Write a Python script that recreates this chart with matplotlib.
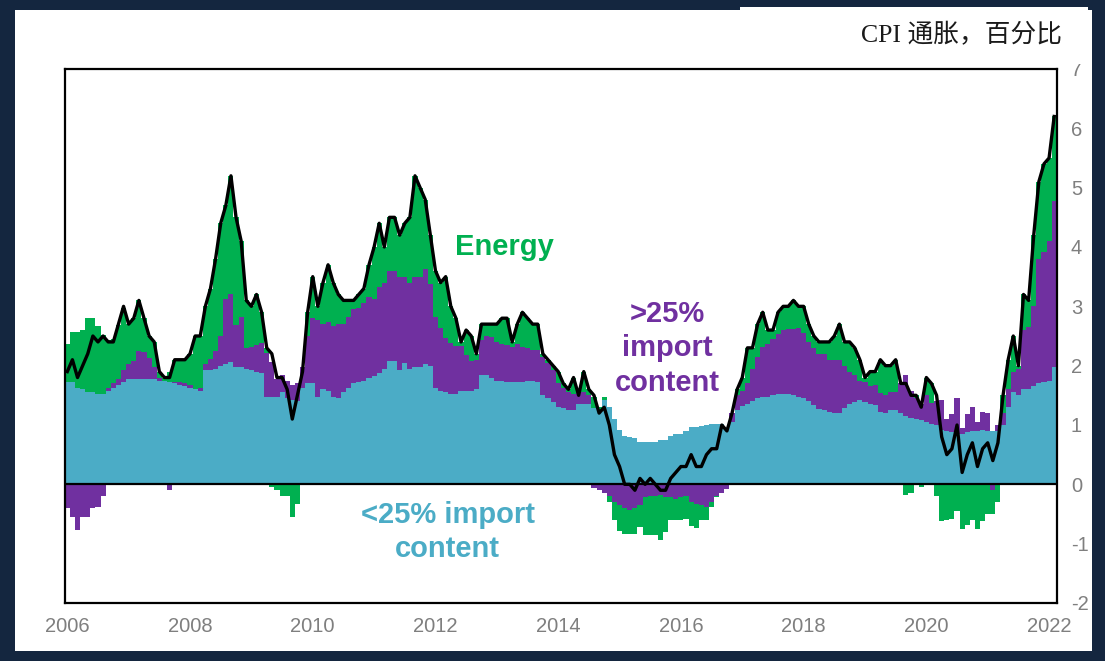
import numpy as np
import matplotlib.pyplot as plt
from matplotlib.patches import Rectangle

plt.rcParams["font.family"] = ["Liberation Sans", "Noto Sans CJK SC"]
plt.rcParams["axes.unicode_minus"] = False

NAVY = "#14263F"
TEAL = "#4BACC6"
PURPLE = "#7030A0"
GREEN = "#00B050"
GREY = "#7F7F7F"

# ---------------------------------------------------------------------------
# Data: monthly, Jan 2006 .. Feb 2022 (percentage points)
# ---------------------------------------------------------------------------
tick_years = ["2006", "2008", "2010", "2012", "2014", "2016", "2018", "2020", "2022"]

cpi = [
    1.9, 2.1, 1.8, 2.0, 2.2, 2.5, 2.4, 2.5, 2.4, 2.4, 2.7, 3.0,
    2.7, 2.8, 3.1, 2.8, 2.5, 2.4, 1.9, 1.8, 1.8, 2.1, 2.1, 2.1,
    2.2, 2.5, 2.5, 3.0, 3.3, 3.8, 4.4, 4.7, 5.2, 4.5, 4.1, 3.1,
    3.0, 3.2, 2.9, 2.3, 2.2, 1.8, 1.8, 1.6, 1.1, 1.5, 1.9, 2.9,
    3.5, 3.0, 3.4, 3.7, 3.4, 3.2, 3.1, 3.1, 3.1, 3.2, 3.3, 3.7,
    4.0, 4.4, 4.0, 4.5, 4.5, 4.2, 4.4, 4.5, 5.2, 5.0, 4.8, 4.2,
    3.6, 3.4, 3.5, 3.0, 2.8, 2.4, 2.6, 2.5, 2.2, 2.7, 2.7, 2.7,
    2.7, 2.8, 2.8, 2.4, 2.7, 2.9, 2.8, 2.7, 2.7, 2.2, 2.1, 2.0,
    1.9, 1.7, 1.6, 1.8, 1.5, 1.9, 1.6, 1.5, 1.2, 1.3, 1.0, 0.5,
    0.3, 0.0, 0.0, -0.1, 0.1, 0.0, 0.1, 0.0, -0.1, -0.1, 0.1, 0.2,
    0.3, 0.3, 0.5, 0.3, 0.3, 0.5, 0.6, 0.6, 1.0, 0.9, 1.2, 1.6,
    1.8, 2.3, 2.3, 2.7, 2.9, 2.6, 2.6, 2.9, 3.0, 3.0, 3.1, 3.0,
    3.0, 2.7, 2.5, 2.4, 2.4, 2.4, 2.5, 2.7, 2.4, 2.4, 2.3, 2.1,
    1.8, 1.9, 1.9, 2.1, 2.0, 2.0, 2.1, 1.7, 1.7, 1.5, 1.5, 1.3,
    1.8, 1.7, 1.5, 0.8, 0.5, 0.6, 1.0, 0.2, 0.5, 0.7, 0.3, 0.6,
    0.7, 0.4, 0.7, 1.5, 2.1, 2.5, 2.0, 3.2, 3.1, 4.2, 5.1, 5.4,
    5.5, 6.2,
]

low_import = [
    1.72, 1.72, 1.62, 1.60, 1.55, 1.55, 1.52, 1.52, 1.58, 1.62, 1.68, 1.73,
    1.78, 1.78, 1.78, 1.78, 1.78, 1.77, 1.75, 1.75, 1.72, 1.70, 1.68, 1.65,
    1.62, 1.60, 1.58, 1.92, 1.92, 1.95, 2.00, 2.02, 2.06, 1.98, 1.97, 1.95,
    1.92, 1.90, 1.88, 1.47, 1.47, 1.47, 1.55, 1.45, 1.42, 1.40, 1.62, 1.70,
    1.70, 1.47, 1.60, 1.58, 1.47, 1.45, 1.55, 1.62, 1.70, 1.72, 1.75, 1.80,
    1.82, 1.88, 1.95, 2.08, 2.08, 1.92, 2.05, 1.95, 1.97, 1.97, 2.03, 2.00,
    1.62, 1.58, 1.56, 1.53, 1.53, 1.58, 1.58, 1.58, 1.60, 1.85, 1.85, 1.80,
    1.75, 1.75, 1.73, 1.72, 1.72, 1.72, 1.75, 1.75, 1.72, 1.50, 1.45, 1.38,
    1.30, 1.28, 1.25, 1.25, 1.35, 1.36, 1.36, 1.28, 1.25, 1.42, 1.30, 1.10,
    0.91, 0.82, 0.80, 0.78, 0.72, 0.71, 0.71, 0.72, 0.74, 0.74, 0.82, 0.85,
    0.85, 0.90, 0.97, 0.97, 0.98, 1.00, 1.02, 1.02, 1.02, 0.93, 1.05, 1.25,
    1.32, 1.35, 1.40, 1.45, 1.47, 1.47, 1.50, 1.53, 1.53, 1.52, 1.50, 1.48,
    1.45, 1.40, 1.33, 1.27, 1.25, 1.22, 1.20, 1.20, 1.28, 1.35, 1.38, 1.42,
    1.38, 1.36, 1.33, 1.22, 1.20, 1.25, 1.25, 1.20, 1.15, 1.12, 1.10, 1.08,
    1.05, 1.02, 1.00, 0.92, 0.90, 0.88, 0.85, 0.85, 0.88, 0.90, 0.90, 0.92,
    0.90, 0.90, 0.90, 1.00, 1.30, 1.55, 1.50, 1.60, 1.60, 1.65, 1.70, 1.72,
    1.75, 1.97,
]

high_import = [
    -0.40, -0.55, -0.77, -0.55, -0.55, -0.40, -0.38, -0.20, 0.05, 0.08, 0.10, 0.20,
    0.25, 0.30, 0.47, 0.45, 0.35, 0.20, 0.05, 0.00, -0.10, 0.03, 0.05, 0.05,
    0.05, 0.00, 0.05, 0.10, 0.20, 0.30, 0.50, 1.10, 1.15, 0.70, 0.85, 0.35,
    0.40, 0.45, 0.50, 0.75, 0.60, 0.30, 0.30, 0.30, 0.25, 0.30, 0.35, 0.80,
    1.10, 1.30, 1.10, 1.15, 1.20, 1.25, 1.15, 1.20, 1.25, 1.25, 1.30, 1.35,
    1.30, 1.45, 1.45, 1.52, 1.52, 1.58, 1.45, 1.45, 1.53, 1.53, 1.60, 1.38,
    1.20, 1.05, 0.90, 0.85, 0.80, 0.75, 0.60, 0.50, 0.50, 0.58, 0.65, 0.68,
    0.65, 0.62, 0.62, 0.60, 0.65, 0.60, 0.55, 0.52, 0.55, 0.65, 0.60, 0.55,
    0.40, 0.35, 0.30, 0.28, 0.20, 0.20, 0.15, -0.07, -0.10, -0.15, -0.20, -0.30,
    -0.35, -0.40, -0.43, -0.40, -0.35, -0.22, -0.20, -0.20, -0.18, -0.22, -0.22, -0.25,
    -0.22, -0.20, -0.30, -0.33, -0.35, -0.38, -0.30, -0.20, -0.15, -0.08, 0.15, 0.25,
    0.25, 0.35, 0.55, 0.70, 0.85, 0.90, 0.95, 1.00, 1.07, 1.10, 1.12, 1.15,
    1.10, 1.00, 0.97, 0.93, 0.95, 0.88, 0.89, 0.89, 0.72, 0.55, 0.47, 0.33,
    0.35, 0.30, 0.35, 0.32, 0.30, 0.30, 0.30, 0.50, 0.70, 0.45, 0.35, 0.27,
    0.45, 0.35, 0.40, 0.50, 0.20, 0.30, 0.60, 0.10, 0.30, 0.40, 0.15, 0.30,
    0.30, -0.10, 0.10, 0.20, 0.30, 0.35, 0.45, 1.00, 1.05, 1.35, 2.10, 2.20,
    2.35, 2.81,
]

energy = [
    0.65, 0.85, 0.95, 1.00, 1.25, 1.25, 1.15, 1.00, 0.80, 0.75, 0.90, 1.05,
    0.67, 0.72, 0.85, 0.57, 0.37, 0.43, 0.10, 0.05, 0.18, 0.37, 0.37, 0.40,
    0.53, 0.90, 0.87, 0.98, 1.18, 1.55, 1.90, 1.58, 1.99, 1.82, 1.28, 0.80,
    0.68, 0.85, 0.52, 0.08, -0.05, -0.10, -0.20, -0.20, -0.55, -0.33, 0.00, 0.40,
    0.70, 0.23, 0.70, 0.97, 0.73, 0.50, 0.40, 0.28, 0.15, 0.23, 0.25, 0.55,
    0.88, 1.07, 0.60, 0.90, 0.90, 0.70, 0.90, 1.10, 1.70, 1.50, 1.17, 0.82,
    0.78, 0.77, 1.04, 0.62, 0.47, 0.07, 0.42, 0.42, 0.10, 0.27, 0.20, 0.22,
    0.30, 0.43, 0.45, 0.08, 0.33, 0.58, 0.50, 0.43, 0.43, 0.05, 0.05, 0.07,
    0.20, 0.07, 0.05, 0.27, 0.03, 0.34, 0.09, 0.20, 0.05, 0.05, -0.10, -0.30,
    -0.43, -0.43, -0.40, -0.43, -0.37, -0.63, -0.65, -0.65, -0.76, -0.58, -0.38, -0.35,
    -0.38, -0.38, -0.40, -0.40, -0.25, -0.22, -0.08, -0.02, 0.00, 0.00, 0.00, 0.10,
    0.23, 0.60, 0.35, 0.55, 0.58, 0.23, 0.15, 0.37, 0.40, 0.38, 0.48, 0.37,
    0.45, 0.30, 0.20, 0.20, 0.20, 0.30, 0.41, 0.61, 0.40, 0.50, 0.45, 0.35,
    0.07, 0.24, 0.22, 0.56, 0.50, 0.45, 0.55, 0.00, -0.18, -0.15, 0.05, -0.05,
    0.30, 0.33, -0.20, -0.62, -0.60, -0.58, -0.45, -0.75, -0.68, -0.60, -0.75, -0.62,
    -0.50, -0.40, -0.30, 0.30, 0.50, 0.60, 0.05, 0.60, 0.45, 1.20, 1.30, 1.48,
    1.40, 1.42,
]


def band(ax, values, base, color):
    """One stacked layer drawn as month-wide steps."""
    edges = np.arange(len(values) + 1) - 0.5
    ax.stairs(base + values, edges, baseline=base, fill=True,
              color=color, linewidth=0, zorder=2)


def main():
    fig = plt.figure(figsize=(11.05, 6.61), dpi=100, facecolor=NAVY)

    # white panel inside the navy frame
    fig.patches.append(Rectangle((15 / 1105, 10 / 661), 1077 / 1105, 641 / 661,
                                 transform=fig.transFigure, facecolor="white",
                                 edgecolor="none", zorder=-1))

    ax = fig.add_axes([65 / 1105, 58 / 661, 992 / 1105, 534 / 661])

    low = np.array(low_import)
    high = np.array(high_import)
    en = np.array(energy)
    x = np.arange(len(cpi))

    high_pos, high_neg = np.clip(high, 0, None), np.clip(high, None, 0)
    en_pos, en_neg = np.clip(en, 0, None), np.clip(en, None, 0)

    band(ax, low, np.zeros_like(low), TEAL)
    band(ax, high_pos, low, PURPLE)
    band(ax, en_pos, low + high_pos, GREEN)
    band(ax, high_neg, np.zeros_like(low), PURPLE)
    band(ax, en_neg, high_neg, GREEN)

    ax.axhline(0, color="black", linewidth=1.6, zorder=3)
    ax.plot(x, cpi, color="black", linewidth=2.4, solid_joinstyle="round",
            zorder=4)

    ax.set_xlim(-0.45, len(cpi) - 0.45)
    ax.set_ylim(-2, 7)
    ax.set_xticks(np.arange(0, len(cpi), 24))
    ax.set_xticklabels(tick_years)
    ax.set_yticks(range(-2, 8))
    ax.yaxis.tick_right()
    ax.tick_params(axis="both", length=0, labelsize=14.5, colors=GREY)
    ax.tick_params(axis="x", pad=10)
    ax.tick_params(axis="y", pad=10)
    for sp in ax.spines.values():
        sp.set_color("black")
        sp.set_linewidth(1.6)

    # ── In-chart labels ─────────────────────────────────────────────────────
    ax.text(85.5, 4.0, "Energy", color=GREEN, fontsize=21, fontweight="bold",
            ha="center", va="center", zorder=5)
    ax.text(117.4, 2.29, ">25%\nimport\ncontent", color=PURPLE, fontsize=21,
            fontweight="bold", ha="center", va="center", linespacing=1.28,
            zorder=5)
    ax.text(74.4, -0.81, "<25% import\ncontent", color=TEAL, fontsize=21,
            fontweight="bold", ha="center", va="center", linespacing=1.28,
            zorder=5)

    # ── Title box (sits over the top of the axis) ───────────────────────────
    fig.patches.append(Rectangle((740 / 1105, (661 - 64) / 661), 348 / 1105,
                                 57 / 661, transform=fig.transFigure,
                                 facecolor="white", edgecolor="none", zorder=5))
    fig.text(1062 / 1105, (661 - 35) / 661, "CPI 通胀，百分比",
             family=["Liberation Serif", "Noto Sans CJK SC"], fontsize=18.5,
             color="#1A1A1A", ha="right", va="center", zorder=6)

    fig.savefig("out.png", dpi=100, facecolor=NAVY)
    plt.close(fig)


if __name__ == "__main__":
    main()
